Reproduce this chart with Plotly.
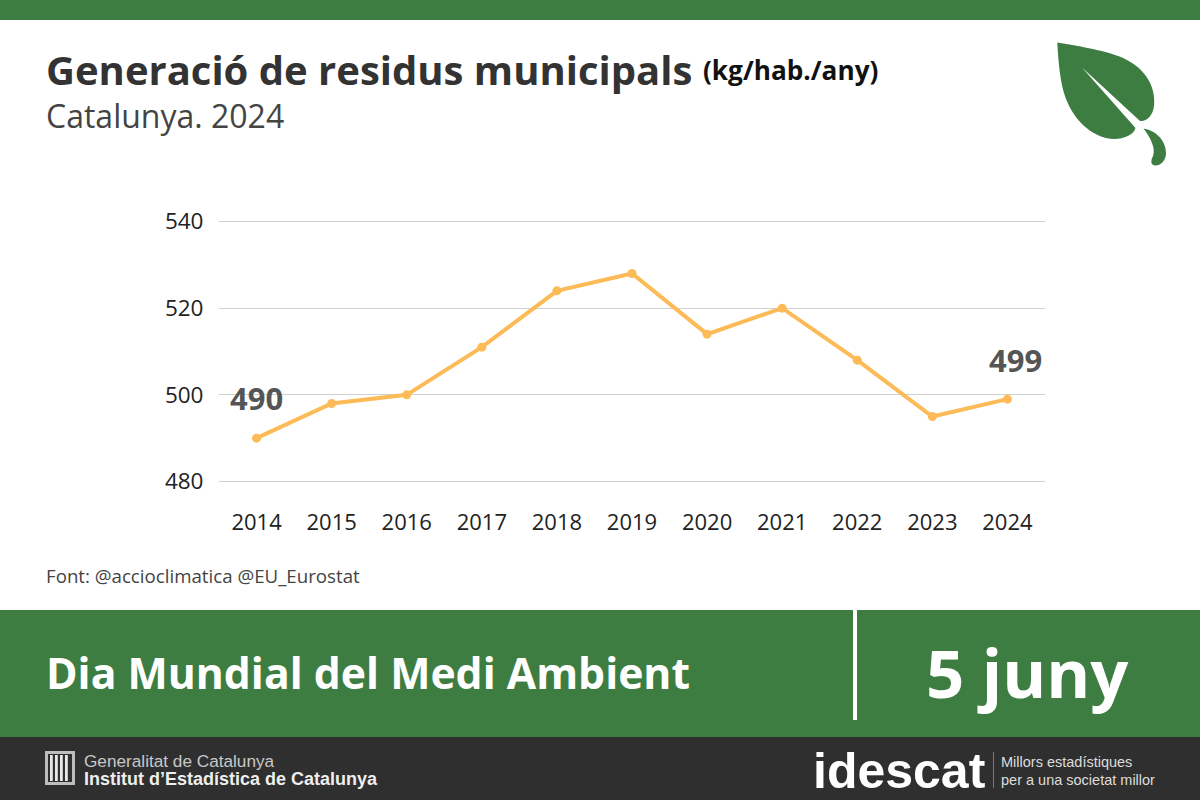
import plotly.graph_objects as go

years = ["2014","2015","2016","2017","2018","2019","2020","2021","2022","2023","2024"]
waste = [490,498,500,511,524,528,514,520,508,495,499]
y_ticks = [480,500,520,540]

GREEN = "#3E7D42"
DARK = "#2F2F2F"
W, H = 1200, 800
ML, MR, MT, MB = 219, 155, 219, 316
PW, PH = W - ML - MR, H - MT - MB
def X(p): return (p - ML) / PW
def Y(p): return (H - MB - p) / PH

fig = go.Figure(go.Scatter(
    x=years, y=waste, mode="lines+markers",
    line=dict(color="#FDBB57", width=4),
    marker=dict(color="#FDBB57", size=9),
    hoverinfo="skip", cliponaxis=False))

shapes = []
def rect(x0, y0, x1, y1, color):
    shapes.append(dict(type="rect", xref="paper", yref="paper", layer="below",
                       x0=X(x0), x1=X(x1), y0=Y(y0), y1=Y(y1),
                       fillcolor=color, line_width=0))
rect(0, 0, 1200, 20, GREEN)
rect(0, 610, 1200, 737, GREEN)
rect(0, 737, 1200, 800, DARK)
rect(853, 610, 857, 720, "#FFFFFF")
rect(993, 752, 994, 788, "#777777")

def path(cmds):
    out = []
    for c in cmds:
        if isinstance(c, str):
            out.append(c)
        else:
            out.append(f"{X(c[0]):.5f},{Y(c[1]):.5f}")
    return " ".join(out).replace("M ", "M").replace("L ", "L").replace("C ", "C")

leaf = path(["M",(1057.3,42.5),
             "C",(1090,48),(1118,53),(1132,63),
             "C",(1148,73),(1156,90),(1154,106),
             "C",(1153,116),(1146,122),(1140,121),
             "L",(1082,67.5),
             "L",(1135.5,128),
             "C",(1133,137),(1118,141),(1106,138),
             "C",(1083,132),(1067,110),(1062,85),
             "C",(1059,70),(1058,55),(1057.3,42.5),"Z"])
stem = path(["M",(1143.5,128.5),
             "C",(1155,130),(1166,140),(1166,153),
             "C",(1166,161),(1160,166),(1155,165.5),
             "C",(1150,165),(1151,160),(1153,156),
             "C",(1156,148),(1150,137),(1143.5,128.5),"Z"])
for d in (leaf, stem):
    shapes.append(dict(type="path", xref="paper", yref="paper", path=d,
                       fillcolor=GREEN, line_width=0, layer="below"))

# emblem of the Generalitat
rect(45, 751, 75, 785, "#BDBDBD")
rect(48, 754, 72, 782, DARK)
for sx in (50, 55, 60, 65):
    rect(sx, 755, sx + 2.8, 781, "#E8E8E8")

def note(text, x, y, size, color, family="Open Sans", bold=False, anchor="left"):
    t = f"<b>{text}</b>" if bold else text
    return dict(text=t, xref="paper", yref="paper", x=X(x), y=Y(y), xanchor=anchor,
                yanchor="middle", showarrow=False, align=anchor,
                font=dict(size=size, color=color, family=family))

notes = [
    note("Generació de residus municipals", 44, 70, 40, "#333333", bold=True),
    note("(kg/hab./any)", 701, 70, 26.2, "#111111", bold=True),
    note("Catalunya. 2024", 44, 115, 32, "#444444"),
    note("Font: @accioclimatica @EU_Eurostat", 44, 575, 18.7, "#444444"),
    note("Dia Mundial del Medi Ambient", 44, 672, 42.7, "#FFFFFF", bold=True),
    note("5 juny", 1027, 672, 67, "#FFFFFF", bold=True, anchor="center"),
    note("Generalitat de Catalunya", 82, 761, 17.2, "#C8C8C8", family="Liberation Sans"),
    note("Institut d’Estadística de Catalunya", 82, 779, 18, "#EEEEEE", family="Liberation Sans", bold=True),
    note("idescat", 899, 771, 50, "#FFFFFF", family="Liberation Sans", bold=True, anchor="center"),
    note("Millors estadístiques", 999, 762, 14.5, "#DDDDDD", family="Liberation Sans"),
    note("per a una societat millor", 999, 780, 14.5, "#DDDDDD", family="Liberation Sans"),
    dict(text=f"<b>{waste[0]}</b>", x=0, y=waste[0], xref="x", yref="y",
         yshift=40, showarrow=False, font=dict(size=31, color="#555555", family="Open Sans")),
    dict(text=f"<b>{waste[-1]}</b>", x=len(years) - 1, y=waste[-1], xref="x", yref="y",
         xshift=8, yshift=39, showarrow=False, font=dict(size=31, color="#555555", family="Open Sans")),
]

fig.update_layout(
    width=W, height=H, showlegend=False,
    paper_bgcolor="#FFFFFF", plot_bgcolor="#FFFFFF",
    margin=dict(l=ML, r=MR, t=MT, b=MB, pad=0),
    font=dict(family="Open Sans", size=22, color="#222222"),
    shapes=shapes, annotations=notes,
    xaxis=dict(type="category", range=[-0.5, 10.5], showgrid=False, zeroline=False,
               showline=False, ticks="outside", ticklen=19, tickcolor="rgba(0,0,0,0)",
               tickfont=dict(size=22, color="#222222")),
    yaxis=dict(range=[479.42, 540.58], tickvals=y_ticks, showgrid=True, gridcolor="#D0D0D0",
               gridwidth=1.2, zeroline=False, showline=False, ticks="outside", ticklen=10,
               tickcolor="rgba(0,0,0,0)", tickfont=dict(size=22.5, color="#222222")),
)
fig.write_html("out.html", config=dict(displayModeBar=False), post_script="document.body.style.margin='0';")
